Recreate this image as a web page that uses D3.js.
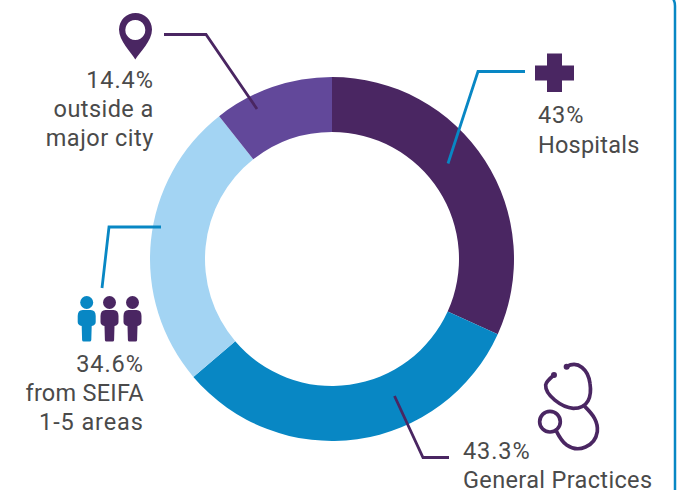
<!DOCTYPE html>
<html><head><meta charset="utf-8">
<script src="https://cdn.jsdelivr.net/npm/d3@7"></script>
<style>html,body{margin:0;padding:0;background:#fff}svg{display:block}text{font-family:Roboto,sans-serif;font-size:23.5px;fill:#4a4a4a}</style>
</head><body><svg id="c" width="678" height="490"></svg>
<script>
const categories=["Hospitals","General Practices","from SEIFA 1-5 areas","outside a major city"];
const values=[43,43.3,34.6,14.4];
const colors=["#4a2662","#0887c4","#a3d4f3","#62489a"];
const percentLabels=["43%","43.3%","34.6%","14.4%"];
const svg=d3.select("#c");
const PURPLE="#4a2662",BLUE="#0887c4";
const cx=332,cy=259,R=182,r=127;
const g=svg.append("g").attr("transform",`translate(${cx},${cy})`);
const pie=d3.pie().sort(null)(values);
const arc=d3.arc().innerRadius(r).outerRadius(R);
g.selectAll("path").data(pie).join("path").attr("d",arc).attr("fill",(d,i)=>colors[i]);
// panel border
svg.append("path").attr("d","M668,-6 Q675,-2 675,6 L675,490").attr("fill","none").attr("stroke",BLUE).attr("stroke-width",2.5);
// leaders
const leaders=[
 {c:BLUE,p:[[525,71.5],[478,71.5],[448,163.5]]},
 {c:PURPLE,p:[[449,457.5],[423,457.5],[394.5,396]]},
 {c:BLUE,p:[[161,227],[109,227],[102,288]]},
 {c:PURPLE,p:[[164,34.5],[206,34.5],[257,109]]}];
svg.selectAll("polyline").data(leaders).join("polyline")
 .attr("points",d=>d.p.join(" ")).attr("fill","none").attr("stroke",d=>d.c).attr("stroke-width",2.8);
// labels
const labels=[
 {a:"start",x:538,y:[123,152.5],t:[percentLabels[0],"Hospitals"],ls:[0.9,0.22]},
 {a:"start",x:463,y:[459,488],t:[percentLabels[1],"General Practices"],ls:[0.9,0.35]},
 {a:"end",x:143.8,y:[372,401,430],t:[percentLabels[2],"from SEIFA","1-5 areas"],ls:[0.9,0.25,0.9]},
 {a:"end",x:153.8,y:[88,117,146],t:[percentLabels[3],"outside a","major city"],ls:[0.9,0.45,0.5]}];
labels.forEach(l=>l.t.forEach((s,i)=>svg.append("text").attr("x",l.x).attr("y",l.y[i]).attr("text-anchor",l.a).attr("letter-spacing",l.ls[i]).text(s)));
// icons
svg.append("path").attr("fill",PURPLE).attr("fill-rule","evenodd")
 .attr("d","M135.3,59.5 C131,52 119,41 119,29.5 A16.5,16.5 0 0 1 152,29.5 C152,41 140,52 135.3,59.5 Z M135.3,20 A10,10 0 1 0 135.31,20 Z");
svg.append("path").attr("fill",PURPLE).attr("d","M547,53.5H562V65.5H574V80.5H562V92H547V80.5H535V65.5H547Z");
[[86.7,BLUE],[109.5,PURPLE],[132.5,PURPLE]].forEach(([x,c])=>{
 const p=svg.append("g").attr("transform",`translate(${x},0)`).attr("fill",c);
 p.append("circle").attr("cy",302.5).attr("r",6.5);
 p.append("path").attr("d","M-4,310 H4 Q9,310 9,316 V322 Q9,325 5,326 L4.6,340 Q4.5,341.5 3,341.5 H-3 Q-4.5,341.5 -4.6,340 L-5,326 Q-9,325 -9,322 V316 Q-9,310 -4,310 Z");
});
const st=svg.append("g").attr("fill","none").attr("stroke",PURPLE).attr("stroke-linecap","round").attr("transform","translate(340,245) scale(0.3333)");
st.selectAll("path").data([
 "M680,365 C715,345 745,375 750,415 C756,455 745,490 700,490 C665,488 615,450 617,420 C618,410 630,400 642,390",
 "M735,485 C760,510 775,530 772,560 C765,605 715,625 680,600 C665,590 655,570 648,556"
]).join("path").attr("d",d=>d).attr("stroke-width",11);
st.append("circle").attr("cx",630).attr("cy",530).attr("r",31).attr("stroke-width",11);
st.selectAll("circle.e").data([[680,365],[642,390]]).join("circle").attr("class","e").attr("cx",d=>d[0]).attr("cy",d=>d[1]).attr("r",9).attr("fill",PURPLE).attr("stroke","none");
</script></body></html>
